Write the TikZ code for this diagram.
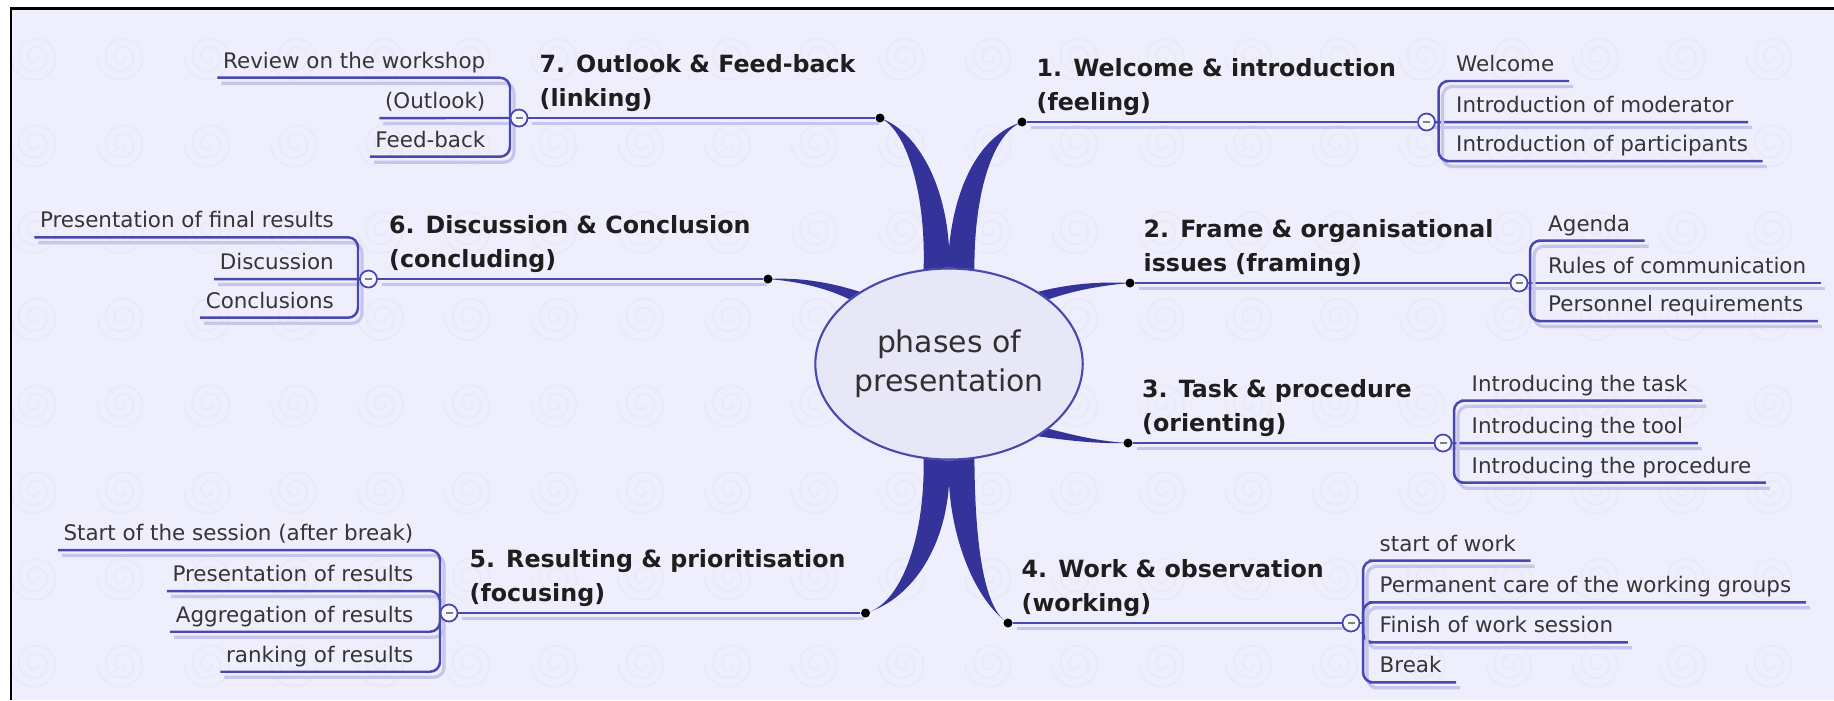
\documentclass[tikz,border=0pt]{standalone}
\usepackage{fontspec}
\setmainfont{DejaVu Sans}
\usetikzlibrary{shapes.geometric}
\definecolor{MapBlue}{HTML}{333399}
\definecolor{MapLine}{HTML}{4848B0}
\definecolor{MapShadow}{HTML}{C6C6EC}
\definecolor{MapBack}{HTML}{EEEEFC}
\definecolor{MapSwirl}{HTML}{E8E8F7}
\definecolor{MapHub}{HTML}{E7E7F8}
\definecolor{MapInk}{HTML}{1E1E1E}
\pgfdeclarelayer{under}
\pgfsetlayers{under,main}

\begin{document}
\begin{tikzpicture}[x=1cm, y=-1cm,
    hub/.style={ellipse, draw=MapLine, line width=0.6pt, fill=MapHub, inner sep=0pt,
      minimum width=2.65cm, minimum height=1.91cm, align=center,
      font=\fontsize{8.5}{11.1}\selectfont, text=MapInk!92},
    phase/.style={anchor=base west, align=left, inner sep=0pt,
      font=\fontsize{6.75}{9.4}\selectfont\bfseries, text=MapInk},
    itemr/.style={anchor=base west, inner sep=0pt,
      font=\fontsize{6.1}{7}\selectfont, text=MapInk!90},
    iteml/.style={itemr, anchor=base east},
    tipdot/.style={circle, fill=black, minimum size=0.09cm, inner sep=0pt},
    knob/.style={circle, draw=MapLine, line width=0.5pt, fill=white!55!MapBack,
      minimum size=0.17cm, inner sep=0pt,
      path picture={\draw[gray, line width=0.7pt]
        ([xshift=-0.035cm]path picture bounding box.center) --
        ([xshift=0.035cm]path picture bounding box.center);}},
    mainline/.style={draw=MapLine, line width=0.7pt,
      preaction={draw=MapShadow, line width=0.9pt,
        transform canvas={shift={(0.04cm,-0.055cm)}}}},
    subline/.style={mainline, rounded corners=0.1cm},
    branch/.style={fill=MapBlue},
    swirl/.style={draw=MapSwirl, line width=0.4pt}]

    \useasboundingbox (0,0) rectangle (18.34,7.00);

    % Paper, frame and watermark
    \begin{pgfonlayer}{under}
        \fill[white] (0,0) rectangle (18.34,7.00);
        \fill[MapBack] (0.11,0.083) rectangle (18.34,7.00);
        \foreach \i in {0,...,20}
            \foreach \j in {0,...,7}
                \draw[swirl, shift={(0.35+0.868*\i,0.57+0.867*\j)}]
                    plot[domain=0:900, samples=36, smooth]
                    ({(0.03+0.22*\x/900)*cos(\x)}, {(0.03+0.22*\x/900)*sin(\x)});
        \draw[line width=0.8pt] (0.11,7.00) -- (0.11,0.083) -- (18.34,0.083);
    \end{pgfonlayer}

    % Centre
    \node[hub] (hub) at (9.49,3.64) {phases of\\presentation};

    % 1. Welcome & introduction
    \node[tipdot] (d1) at (10.22,1.22) {};
    \node[knob] (k1) at (14.265,1.22) {};
    \coordinate (b1) at (14.385,1.22);
    \node[phase] (p1) at (10.36,1.10) {1. Welcome \& introduction\\(feeling)};
    \foreach \n/\txt/\y in {1/Welcome/0.715, 2/Introduction of moderator/1.125,
        3/Introduction of participants/1.515}
        \node[itemr] (s1\n) at (14.555,\y) {\txt};

    % 2. Frame & organisational issues
    \node[tipdot] (d2) at (11.30,2.83) {};
    \node[knob] (k2) at (15.19,2.83) {};
    \coordinate (b2) at (15.30,2.83);
    \node[phase] (p2) at (11.43,2.71) {2. Frame \& organisational\\issues (framing)};
    \foreach \n/\txt/\y in {1/Agenda/2.312, 2/Rules of communication/2.735,
        3/Personnel requirements/3.115}
        \node[itemr] (s2\n) at (15.475,\y) {\txt};

    % 3. Task & procedure
    \node[tipdot] (d3) at (11.28,4.43) {};
    \node[knob] (k3) at (14.43,4.43) {};
    \coordinate (b3) at (14.54,4.43);
    \node[phase] (p3) at (11.415,4.31) {3. Task \& procedure\\(orienting)};
    \foreach \n/\txt/\y in {1/Introducing the task/3.912, 2/Introducing the tool/4.335,
        3/Introducing the procedure/4.732}
        \node[itemr] (s3\n) at (14.71,\y) {\txt};

    % 4. Work & observation
    \node[tipdot] (d4) at (10.08,6.23) {};
    \node[knob] (k4) at (13.51,6.23) {};
    \coordinate (b4) at (13.63,6.23);
    \node[phase] (p4) at (10.21,6.11) {4. Work \& observation\\(working)};
    \foreach \n/\txt/\y in {1/start of work/5.512, 2/Permanent care of the working groups/5.928,
        3/Finish of work session/6.328, 4/Break/6.728}
        \node[itemr] (s4\n) at (13.79,\y) {\txt};

    % 5. Resulting & prioritisation
    \node[tipdot] (d5) at (8.655,6.13) {};
    \node[knob] (k5) at (4.49,6.13) {};
    \coordinate (b5) at (4.40,6.13);
    \node[phase] (p5) at (4.69,6.01) {5. Resulting \& prioritisation\\(focusing)};
    \foreach \n/\txt/\y in {1/Start of the session (after break)/5.405, 2/Presentation of results/5.815,
        3/Aggregation of results/6.222, 4/ranking of results/6.622}
        \node[iteml] (s5\n) at (4.14,\y) {\txt};

    % 6. Discussion & Conclusion
    \node[tipdot] (d6) at (7.68,2.79) {};
    \node[knob] (k6) at (3.685,2.79) {};
    \coordinate (b6) at (3.58,2.79);
    \node[phase] (p6) at (3.885,2.67) {6. Discussion \& Conclusion\\(concluding)};
    \foreach \n/\txt/\y in {1/Presentation of final results/2.278, 2/Discussion/2.695,
        3/Conclusions/3.082}
        \node[iteml] (s6\n) at (3.345,\y) {\txt};

    % 7. Outlook & Feed-back
    \node[tipdot] (d7) at (8.80,1.18) {};
    \node[knob] (k7) at (5.19,1.18) {};
    \coordinate (b7) at (5.10,1.18);
    \node[phase] (p7) at (5.39,1.06) {7. Outlook \& Feed-back\\(linking)};
    \foreach \n/\txt/\y in {1/Review on the workshop/0.682, 2/(Outlook)/1.085,
        3/Feed-back/1.472}
        \node[iteml] (s7\n) at (4.86,\y) {\txt};

    \begin{pgfonlayer}{under}
        % Thick branches from the centre
        \fill[branch] (d7.center) .. controls (9.05,1.28) and (9.26,1.90) .. (hub.105)
            -- (hub.north) -- ([yshift=0.2cm]hub.north) .. controls (9.45,1.80) and (9.15,1.30) .. (d7.center);
        \fill[branch] (d1.center) .. controls (9.90,1.35) and (9.74,2.00) .. (hub.75)
            -- (hub.north) -- ([yshift=0.2cm]hub.north) .. controls (9.55,1.85) and (9.80,1.35) .. (d1.center);
        \fill[branch] (d5.center) .. controls (9.00,6.05) and (9.25,5.40) .. (hub.255)
            -- (hub.south) -- ([yshift=-0.23cm]hub.south) .. controls (9.45,5.50) and (9.10,6.00) .. (d5.center);
        \fill[branch] (d4.center) .. controls (9.85,6.10) and (9.75,5.50) .. (hub.285)
            -- (hub.south) -- ([yshift=-0.23cm]hub.south) .. controls (9.52,5.40) and (9.75,6.00) .. (d4.center);
        \fill[branch] (d6.center) .. controls (8.05,2.77) and (8.35,2.84) .. (hub.141)
            -- (hub.147) .. controls (8.30,2.90) and (8.05,2.82) .. (d6.center);
        \fill[branch] (d2.center) .. controls (10.95,2.81) and (10.65,2.85) .. (hub.39)
            -- (hub.33) .. controls (10.70,2.92) and (10.95,2.86) .. (d2.center);
        \fill[branch] (d3.center) .. controls (10.95,4.44) and (10.65,4.40) .. (hub.-39)
            -- (hub.-33) .. controls (10.70,4.34) and (10.95,4.41) .. (d3.center);

        % Right side lines
        \foreach \g in {1,2,3} {
            \draw[mainline] (d\g) -- (k\g);
            \draw[subline] (k\g) -- (b\g) -- ([shift={(0.14cm,-0.095cm)}]s\g2.base east);
            \foreach \n in {1,3}
                \draw[subline] (b\g) |- ([yshift=-0.095cm]s\g\n.base west)
                    -- ([shift={(0.14cm,-0.095cm)}]s\g\n.base east);
        }
        \draw[mainline] (d4) -- (k4);
        \draw[subline] (k4) -- (b4);
        \foreach \n in {1,...,4}
            \draw[subline] (b4) |- ([yshift=-0.095cm]s4\n.base west)
                -- ([shift={(0.14cm,-0.095cm)}]s4\n.base east);

        % Left side lines
        \foreach \g in {6,7} {
            \draw[mainline] (d\g) -- (k\g);
            \draw[subline] (k\g) -- (b\g) -- ([shift={(-0.05cm,-0.095cm)}]s\g2.base west);
            \foreach \n in {1,3}
                \draw[subline] (b\g) |- ([yshift=-0.095cm]s\g\n.base east)
                    -- ([shift={(-0.05cm,-0.095cm)}]s\g\n.base west);
        }
        \draw[mainline] (d5) -- (k5);
        \draw[subline] (k5) -- (b5);
        \foreach \n in {1,...,4}
            \draw[subline] (b5) |- ([yshift=-0.095cm]s5\n.base east)
                -- ([shift={(-0.05cm,-0.095cm)}]s5\n.base west);
    \end{pgfonlayer}
\end{tikzpicture}
\end{document}
